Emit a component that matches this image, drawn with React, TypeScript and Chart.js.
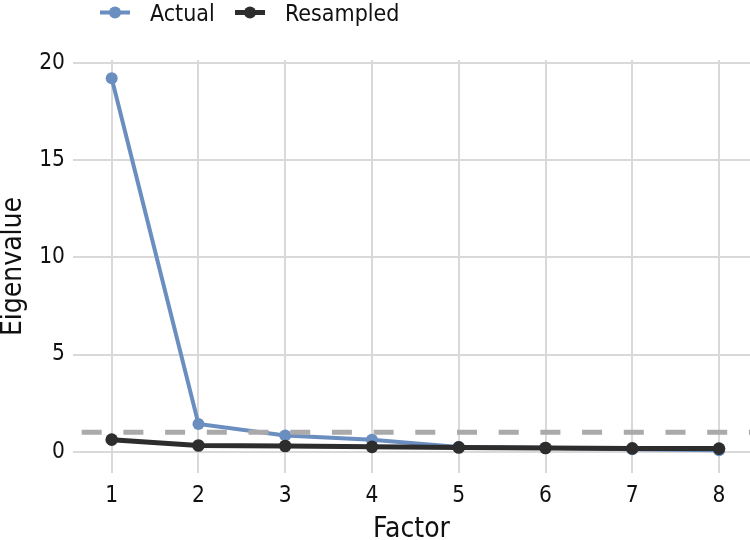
import React, { useEffect, useRef } from "react";
import { Chart, registerables } from "chart.js";

Chart.register(...registerables);

const factors = [1, 2, 3, 4, 5, 6, 7, 8];
const actualValues = [19.23, 1.43, 0.84, 0.62, 0.24, 0.2, 0.12, 0.08];
const resampledValues = [0.62, 0.32, 0.29, 0.25, 0.22, 0.19, 0.17, 0.16];
const yTickValues = [0, 5, 10, 15, 20];
const seriesLabels = ["Actual", "Resampled"];
const referenceLine = 1;

const FONT = "'DejaVu Sans Condensed', 'Liberation Sans Narrow', sans-serif";
const BLUE = "#6a8ebf";
const DARK = "#2d2d2d";

export default function App() {
  const ref = useRef<HTMLCanvasElement | null>(null);
  useEffect(() => {
    if (!ref.current) return;
    const refLinePlugin = {
      id: "refLine",
      afterDatasetsDraw(chart: any) {
        const { ctx, chartArea, scales } = chart;
        const y = scales.y.getPixelForValue(referenceLine);
        ctx.save();
        ctx.beginPath();
        ctx.rect(chartArea.left, chartArea.top, chartArea.right - chartArea.left, chartArea.bottom - chartArea.top);
        ctx.clip();
        ctx.strokeStyle = "#aaaaaa";
        ctx.lineWidth = 5;
        ctx.setLineDash([20, 21.7]);
        ctx.lineDashOffset = 33;
        ctx.beginPath();
        ctx.moveTo(chartArea.left, y);
        ctx.lineTo(chartArea.right, y);
        ctx.stroke();
        ctx.restore();
      },
    };
    const legendPlugin = {
      id: "customLegend",
      afterDraw(chart: any) {
        const { ctx } = chart;
        const items = [
          { x: 100, tx: 150, color: BLUE, lw: 4, label: chart.data.datasets[0].label },
          { x: 235, tx: 285, color: DARK, lw: 5, label: chart.data.datasets[1].label },
        ];
        ctx.save();
        items.forEach((it) => {
          ctx.strokeStyle = it.color;
          ctx.fillStyle = it.color;
          ctx.lineWidth = it.lw;
          ctx.beginPath();
          ctx.moveTo(it.x, 12.5);
          ctx.lineTo(it.x + 30, 12.5);
          ctx.stroke();
          ctx.beginPath();
          ctx.arc(it.x + 15, 12.5, 6, 0, Math.PI * 2);
          ctx.fill();
          ctx.fillStyle = "#111111";
          ctx.font = `23px ${FONT}`;
          ctx.textBaseline = "alphabetic";
          ctx.textAlign = "left";
          ctx.fillText(it.label, it.tx, 20.5);
        });
        ctx.restore();
      },
    };
    const chart = new Chart(ref.current, {
      type: "line",
      data: {
        datasets: [
          {
            label: seriesLabels[0],
            data: factors.map((f, i) => ({ x: f, y: actualValues[i] })),
            borderColor: BLUE,
            backgroundColor: BLUE,
            borderWidth: 4,
            pointRadius: 6,
            pointBorderWidth: 0,
            pointBackgroundColor: BLUE,
            order: 1,
          },
          {
            label: seriesLabels[1],
            data: factors.map((f, i) => ({ x: f, y: resampledValues[i] })),
            borderColor: DARK,
            backgroundColor: DARK,
            borderWidth: 5,
            pointRadius: 6.3,
            pointBorderWidth: 0,
            pointBackgroundColor: DARK,
            order: 0,
          },
        ],
      },
      options: {
        animation: false,
        responsive: false,
        layout: { autoPadding: false, padding: { top: 60, right: 0, left: 0, bottom: 0 } },
        plugins: { legend: { display: false }, tooltip: { enabled: false } },
        scales: {
          x: {
            type: "linear",
            min: 0.554,
            max: 8.357,
            afterBuildTicks: (axis: any) => {
              axis.ticks = factors.map((v) => ({ value: v }));
            },
            afterFit: (axis: any) => {
              axis.height = 67;
              axis.paddingLeft = 0;
              axis.paddingRight = 0;
            },
            border: { display: false },
            grid: { color: "#d9d9d9", lineWidth: 2, drawTicks: false },
            ticks: {
              color: "#111111",
              padding: 12,
              font: { family: FONT, size: 22.5, lineHeight: 1 },
              callback: (v: any) => String(v),
            },
            title: {
              display: true,
              text: "Factor",
              color: "#111111",
              font: { family: FONT, size: 28, lineHeight: 0.7 },
              padding: { top: 0, bottom: 0 },
            },
          },
          y: {
            type: "linear",
            min: -1.097,
            max: 20.17,
            afterBuildTicks: (axis: any) => {
              axis.ticks = yTickValues.map((v) => ({ value: v }));
            },
            afterFit: (axis: any) => {
              axis.width = 73;
            },
            border: { display: false },
            grid: { color: "#d9d9d9", lineWidth: 2, drawTicks: false },
            ticks: {
              color: "#111111",
              padding: 8,
              font: { family: FONT, size: 22.5, lineHeight: 1 },
              callback: (v: any) => String(v),
            },
            title: {
              display: true,
              text: "Eigenvalue",
              color: "#111111",
              font: { family: FONT, size: 28, lineHeight: 1 },
              padding: { top: 0, bottom: 0 },
            },
          },
        },
      },
      plugins: [refLinePlugin, legendPlugin],
    });
    return () => chart.destroy();
  }, []);
  return (
    <div style={{ position: "fixed", left: 0, top: 0, width: 750, height: 540, background: "#ffffff" }}>
      <canvas ref={ref} width={750} height={540} style={{ display: "block" }} />
    </div>
  );
}
